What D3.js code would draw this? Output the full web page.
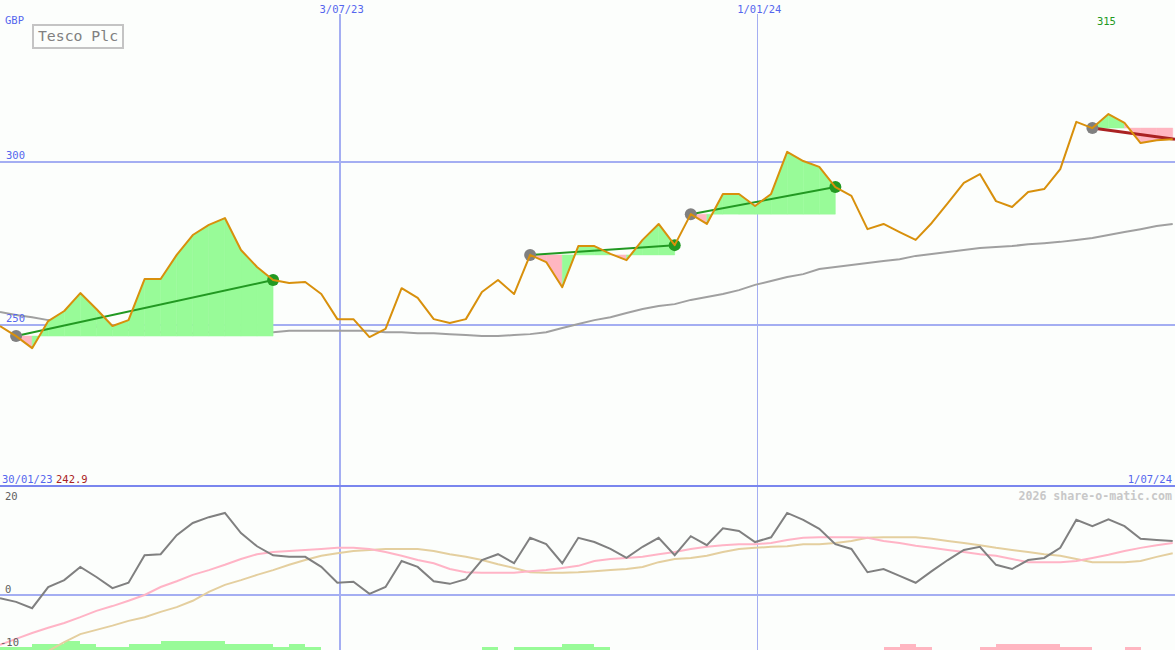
<!DOCTYPE html>
<html>
<head>
<meta charset="utf-8">
<script src="https://cdn.jsdelivr.net/npm/d3@7"></script>
<style>
  html, body { margin: 0; padding: 0; background: #fcfefc; }
  svg { display: block; }
  text { font-family: "DejaVu Sans Mono", "Liberation Mono", monospace; }
</style>
</head>
<body>
<svg id="chart" width="1175" height="650"></svg>
<script>
// ---------- DATA ----------
const title = "Tesco Plc";
const currency = "GBP";
const firstWeek = new Date(2023, 1, 5);
const domainEnd = new Date(2024, 6, 1);
const gridDates = [new Date(2023, 6, 3), new Date(2024, 0, 1)];
const rangeLabels = ["30/01/23", "1/07/24"];
const priceTicks = [250, 300];
const oscTicks = [20, 0, -10];
const watermark = "2026 share-o-matic.com";

// weekly closing price (pence)
const price = [249.7, 246.6, 242.9, 251.2, 254.3, 259.8, 254.9, 249.7, 251.5, 264.1,
  264.1, 271.5, 277.6, 280.7, 282.8, 273.0, 267.8, 263.8, 262.9, 263.2,
  259.5, 251.8, 251.8, 246.3, 248.8, 261.3, 258.3, 251.8, 250.6, 251.8,
  260.1, 263.8, 259.5, 271.5, 269.3, 261.6, 274.2, 274.2, 271.8, 269.9,
  276.1, 281.0, 274.5, 284.0, 281.0, 290.2, 290.2, 286.5, 290.2, 303.1,
  300.3, 298.5, 292.3, 289.6, 279.4, 281.0, 278.5, 276.1, 281.3, 287.4,
  293.6, 296.3, 288.0, 286.2, 290.8, 291.7, 297.8, 312.3, 310.4, 314.7,
  312.0, 305.8, 306.7, 307.0];

// long moving average
const movingAvg = [254.0, 253.1, 252.4, 251.5, 250.9, 250.0, 249.4, 248.8, 248.5, 248.2,
  247.8, 247.5, 247.5, 247.8, 248.2, 248.2, 247.8, 247.8, 248.2, 248.2,
  248.2, 248.2, 248.2, 248.2, 247.8, 247.8, 247.5, 247.5, 247.2, 246.9,
  246.6, 246.6, 246.9, 247.2, 247.8, 249.1, 250.3, 251.5, 252.4, 253.7,
  254.9, 255.8, 256.4, 257.7, 258.6, 259.5, 260.7, 262.3, 263.5, 264.7,
  265.6, 267.2, 267.8, 268.4, 269.0, 269.6, 270.2, 271.2, 271.8, 272.4,
  273.0, 273.6, 273.9, 274.2, 274.8, 275.1, 275.5, 276.1, 276.7, 277.6,
  278.5, 279.4, 280.4, 281.0];

// oscillator panel
const momentum = [-0.6, -1.3, -2.5, 1.5, 2.8, 5.3, 3.4, 1.3, 2.3, 7.5,
  7.7, 11.3, 13.6, 14.7, 15.5, 11.7, 9.2, 7.5, 7.2, 7.2,
  5.3, 2.3, 2.5, 0.2, 1.5, 6.4, 5.3, 2.6, 2.1, 3.0,
  6.6, 7.7, 6.0, 10.8, 9.6, 6.0, 10.8, 10.0, 8.7, 7.0,
  9.1, 10.8, 7.5, 11.1, 9.4, 12.6, 12.1, 10.0, 10.9, 15.5,
  14.2, 12.5, 9.6, 8.7, 4.3, 4.9, 3.6, 2.3, 4.5, 6.6,
  8.5, 9.1, 5.7, 4.9, 6.6, 7.0, 8.9, 14.2, 13.0, 14.3,
  13.0, 10.6, 10.4, 10.2];
const signalFast = [-9.4, -8.3, -7.2, -6.2, -5.3, -4.2, -3.0, -2.1, -1.1, 0.0,
  1.5, 2.6, 3.8, 4.7, 5.7, 6.8, 7.7, 8.1, 8.3, 8.5,
  8.7, 8.9, 8.9, 8.7, 8.1, 7.4, 6.6, 6.0, 4.9, 4.3,
  4.2, 4.2, 4.2, 4.5, 4.7, 5.1, 5.5, 6.4, 6.8, 7.0,
  7.2, 7.7, 8.1, 8.7, 9.1, 9.4, 9.6, 9.6, 9.8, 10.4,
  10.8, 10.9, 10.9, 10.9, 10.8, 10.2, 9.8, 9.3, 8.9, 8.5,
  8.1, 7.7, 7.4, 6.8, 6.2, 6.2, 6.2, 6.4, 7.0, 7.6,
  8.3, 8.9, 9.4, 9.8];
const signalSlow = [-13.4, -12.5, -11.5, -10.6, -8.9, -7.4, -6.6, -5.8, -4.9, -4.2,
  -3.2, -2.3, -1.1, 0.6, 1.9, 2.8, 3.8, 4.7, 5.7, 6.6,
  7.4, 7.9, 8.3, 8.5, 8.7, 8.7, 8.7, 8.3, 7.7, 7.2,
  6.6, 5.8, 5.1, 4.3, 4.2, 4.2, 4.3, 4.5, 4.7, 4.9,
  5.3, 6.2, 6.8, 7.0, 7.4, 8.1, 8.7, 8.9, 9.1, 9.2,
  9.6, 9.6, 9.8, 10.2, 10.8, 10.9, 10.9, 10.9, 10.6, 10.2,
  9.8, 9.4, 8.9, 8.5, 8.1, 7.7, 7.4, 6.8, 6.2, 6.2,
  6.2, 6.4, 7.2, 7.9];
// trend strength bars (+ green, - pink)
const strength = [1, 1, 2, 2, 3, 2, 1, 1, 2, 2,
  3, 3, 3, 3, 2, 2, 2, 1, 2, 1,
  0, 0, 0, 0, 0, 0, 0, 0, 0, 0,
  1, 0, 1, 1, 1, 2, 2, 1, 0, 0,
  0, 0, 0, 0, 0, 0, 0, 0, 0, 0,
  0, 0, 0, 0, 0, -1, -2, -1, 0, 0,
  0, -1, -2, -2, -2, -2, -1, -1, 0, 0,
  -1, 0, 0, 0];

// trend segments (week indices)
const segStart = [1, 33, 43, 68];
const segEnd = [17, 42, 52, 73];
const segOpen = [false, false, false, true];

// ---------- CHART ----------
const W = 1175, H = 650, sepY = 487;
const svg = d3.select("#chart");
const dates = price.map((_, i) => d3.timeDay.offset(firstWeek, 7 * i));

const x = d3.scaleTime().domain([firstWeek, domainEnd]).range([0, W]);
const y = d3.scaleLinear().domain([200, 350]).range([488, -1]);
const y2 = d3.scaleLinear().domain([-10.4, 20.4]).range([650, 487]);
const barH = d3.scaleLinear().domain([0, 3]).range([0, 9]);

const blue = "#5566ee", gridCol = "#a4aef2";

svg.append("rect").attr("width", W).attr("height", H).attr("fill", "#fcfefc");

const defs = svg.append("defs");
defs.append("clipPath").attr("id", "clipTop").append("rect")
  .attr("x", 0).attr("y", 0).attr("width", W).attr("height", sepY);
defs.append("clipPath").attr("id", "clipBot").append("rect")
  .attr("x", 0).attr("y", sepY).attr("width", W).attr("height", H - sepY);

// ---- grid ----
svg.append("g").selectAll("line").data(priceTicks).join("line")
  .attr("x1", 0).attr("x2", W)
  .attr("y1", d => y(d)).attr("y2", d => y(d))
  .attr("stroke", gridCol).attr("stroke-width", 2).attr("shape-rendering", "crispEdges");

svg.append("g").selectAll("line").data(gridDates).join("line")
  .attr("x1", d => x(d)).attr("x2", d => x(d))
  .attr("y1", 14).attr("y2", H)
  .attr("stroke", gridCol).attr("stroke-width", (d, i) => i === 0 ? 2 : 1)
  .attr("shape-rendering", "crispEdges");

svg.append("line").attr("x1", 0).attr("x2", W).attr("y1", y2(0)).attr("y2", y2(0))
  .attr("stroke", gridCol).attr("stroke-width", 2).attr("shape-rendering", "crispEdges");

// ---- top panel ----
const topG = svg.append("g").attr("clip-path", "url(#clipTop)");
const lineXY = d3.line().x(d => d[0]).y(d => d[1]);

topG.append("path")
  .attr("d", lineXY(movingAvg.map((v, i) => [x(dates[i]), y(v)])))
  .attr("fill", "none").attr("stroke", "#a0a0a0").attr("stroke-width", 2);

// segment fills
segStart.forEach((s, k) => {
  const e = segEnd[k];
  const base = price[s];
  for (let i = s; i < e; i++) {
    const pts = [[x(dates[i]), y(base)], [x(dates[i]), y(price[i])],
                 [x(dates[i + 1]), y(price[i + 1])], [x(dates[i + 1]), y(base)]];
    const col = price[i + 1] >= base ? "#98fb98" : "#ffb6c1";
    topG.append("path").attr("d", lineXY(pts) + "Z")
      .attr("fill", col).attr("stroke", col).attr("stroke-width", 0.5);
  }
});

// trend lines
segStart.forEach((s, k) => {
  const e = segEnd[k];
  const up = price[e] >= price[s];
  topG.append("line")
    .attr("x1", x(dates[s])).attr("y1", y(price[s]))
    .attr("x2", segOpen[k] ? W : x(dates[e])).attr("y2", y(price[e]))
    .attr("stroke", up ? "#229922" : "#aa2222")
    .attr("stroke-width", segOpen[k] ? 3 : 2);
});

// markers
segStart.forEach((s, k) => {
  topG.append("circle").attr("cx", x(dates[s])).attr("cy", y(price[s])).attr("r", 6)
    .attr("fill", "#808080");
  if (!segOpen[k]) {
    const e = segEnd[k];
    topG.append("circle").attr("cx", x(dates[e])).attr("cy", y(price[e])).attr("r", 6)
      .attr("fill", "#229922");
  }
});

topG.append("path")
  .attr("d", lineXY(price.map((v, i) => [x(dates[i]), y(v)])))
  .attr("fill", "none").attr("stroke", "#d8900c").attr("stroke-width", 2)
  .attr("stroke-linejoin", "round");

// ---- separator ----
svg.append("line").attr("x1", 0).attr("x2", W).attr("y1", 486).attr("y2", 486)
  .attr("stroke", "#7a86ee").attr("stroke-width", 2).attr("shape-rendering", "crispEdges");

// ---- lower panel ----
const botG = svg.append("g").attr("clip-path", "url(#clipBot)");
botG.selectAll("rect.bar").data(strength.map((v, i) => ({ v, i })).filter(d => d.v !== 0))
  .join("rect").attr("class", "bar")
  .attr("x", d => x(dates[d.i]))
  .attr("width", d => x(d3.timeDay.offset(dates[d.i], 7)) - x(dates[d.i]))
  .attr("y", d => H - barH(Math.abs(d.v)))
  .attr("height", d => barH(Math.abs(d.v)))
  .attr("fill", d => d.v > 0 ? "#98fb98" : "#ffb6c1")
  .attr("shape-rendering", "crispEdges");

[[signalSlow, "#e4cf9f"], [signalFast, "#ffb4c6"], [momentum, "#808080"]].forEach(([arr, col]) => {
  botG.append("path")
    .attr("d", lineXY(arr.map((v, i) => [x(dates[i]), y2(v)])))
    .attr("fill", "none").attr("stroke", col).attr("stroke-width", 2);
});

// ---- texts ----
svg.append("text").attr("x", 5).attr("y", 24).attr("font-size", 10.5).attr("fill", blue).text(currency);

svg.append("rect").attr("x", 33).attr("y", 25).attr("width", 90).attr("height", 23)
  .attr("fill", "none").attr("stroke", "#c4c4c4").attr("stroke-width", 2);
svg.append("text").attr("x", 78).attr("y", 41).attr("text-anchor", "middle")
  .attr("font-size", 14.8).attr("fill", "#808080").text(title);

const fmt = d3.timeFormat("%-d/%m/%y");
svg.append("g").selectAll("text").data(gridDates).join("text")
  .attr("x", d => x(d) + 2).attr("y", 13).attr("text-anchor", "middle")
  .attr("font-size", 10.5).attr("fill", blue).text(d => fmt(d));

svg.append("g").selectAll("text").data(priceTicks).join("text")
  .attr("x", 6).attr("y", d => y(d) - 3).attr("font-size", 10.5).attr("fill", blue).text(d => d);

const maxI = d3.maxIndex(price);
svg.append("text").attr("x", x(dates[maxI]) - 2).attr("y", 25).attr("text-anchor", "middle")
  .attr("font-size", 10.5).attr("fill", "#229922").text(Math.round(price[maxI]));

svg.append("text").attr("x", 2).attr("y", 483).attr("font-size", 10.5).attr("fill", blue).text(rangeLabels[0]);
svg.append("text").attr("x", 56).attr("y", 483).attr("font-size", 10.5).attr("fill", "#aa2222")
  .text(d3.min(price).toFixed(1));
svg.append("text").attr("x", 1172).attr("y", 483).attr("text-anchor", "end")
  .attr("font-size", 10.5).attr("fill", blue).text(rangeLabels[1]);

svg.append("text").attr("x", 1172).attr("y", 500).attr("text-anchor", "end")
  .attr("font-size", 11.6).attr("font-weight", "bold").attr("fill", "#c8c8c8").text(watermark);

svg.append("g").selectAll("text").data(oscTicks).join("text")
  .attr("x", d => d < 0 ? 0 : 5)
  .attr("y", d => d === 20 ? 500 : y2(d) - 2)
  .attr("font-size", 10.5).attr("fill", "#606060").text(d => d);
</script>
</body>
</html>
